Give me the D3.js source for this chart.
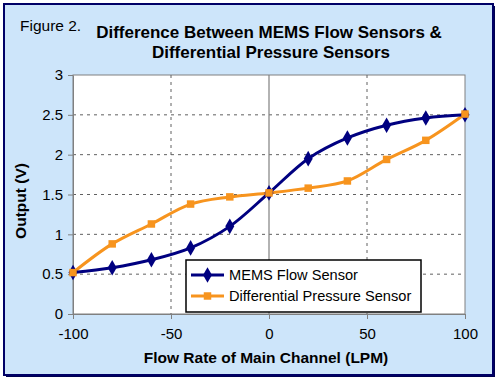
<!DOCTYPE html>
<html>
<head>
<meta charset="utf-8">
<script src="https://cdn.jsdelivr.net/npm/d3@7"></script>
<style>
  body { margin: 0; background: #fff; }
  text { font-family: "Liberation Sans", Arial, sans-serif; }
</style>
</head>
<body>
<div id="graph"></div>
<script>
"use strict";

var flowRates = [-100, -80, -60, -40, -20, 0, 20, 40, 60, 80, 100];
var memsOutput = [0.52, 0.58, 0.68, 0.83, 1.10, 1.52, 1.95, 2.21, 2.37, 2.46, 2.50];
var diffOutput = [0.52, 0.88, 1.13, 1.38, 1.47, 1.52, 1.58, 1.67, 1.94, 2.18, 2.51];
var xTicks = [-100, -50, 0, 50, 100];
var yTicks = [0, 0.5, 1, 1.5, 2, 2.5, 3];
var seriesNames = ["MEMS Flow Sensor", "Differential Pressure Sensor"];

var W = 500, H = 384;
var margin = {top: 75, right: 35, bottom: 70, left: 73};
var width = 465 - margin.left;
var height = 314 - margin.top;

var svg = d3.select("#graph").append("svg")
    .attr("width", W)
    .attr("height", H);

// outer frame with shadow
svg.append("rect")
    .attr("x", 6).attr("y", 6)
    .attr("width", 489).attr("height", 371)
    .attr("fill", "#000050");
svg.append("rect")
    .attr("x", 4).attr("y", 4)
    .attr("width", 489).attr("height", 371)
    .attr("fill", "#cde5fa")
    .attr("stroke", "#000066")
    .attr("stroke-width", 2);

// titles
svg.append("text")
    .attr("x", 20).attr("y", 31)
    .attr("font-size", 15.5)
    .text("Figure 2.");
svg.append("text")
    .attr("x", 269).attr("y", 38)
    .attr("text-anchor", "middle")
    .attr("font-size", 17)
    .attr("font-weight", "bold")
    .text("Difference Between MEMS Flow Sensors &");
svg.append("text")
    .attr("x", 271).attr("y", 58)
    .attr("text-anchor", "middle")
    .attr("font-size", 17)
    .attr("font-weight", "bold")
    .text("Differential Pressure Sensors");

var g = svg.append("g").attr("transform", "translate(" + margin.left + "," + margin.top + ")");

var x = d3.scaleLinear().domain([-100, 100]).range([0, width]);
var y = d3.scaleLinear().domain([0, 3]).range([height, 0]);

// plot area
g.append("rect")
    .attr("width", width).attr("height", height)
    .attr("fill", "#fff")
    .attr("stroke", "#808080")
    .attr("stroke-width", 1);

// horizontal dashed grid
g.selectAll(".hLine")
    .data(yTicks.filter(function(d) { return d > 0 && d < 3; }))
  .enter().append("line")
    .attr("class", "hLine")
    .attr("x1", 0).attr("x2", width)
    .attr("y1", function(d) { return y(d); })
    .attr("y2", function(d) { return y(d); })
    .attr("stroke", "#606060")
    .attr("stroke-dasharray", "3,4");

// vertical dashed grid
g.selectAll(".vLine")
    .data([-50, 50])
  .enter().append("line")
    .attr("class", "vLine")
    .attr("y1", 0).attr("y2", height)
    .attr("x1", function(d) { return x(d); })
    .attr("x2", function(d) { return x(d); })
    .attr("stroke", "#606060")
    .attr("stroke-dasharray", "3,4");

// solid line at zero
g.append("line")
    .attr("x1", x(0)).attr("x2", x(0))
    .attr("y1", 0).attr("y2", height)
    .attr("stroke", "#808080")
    .attr("stroke-width", 1.2);

// axes
var xAxis = g.append("g")
    .attr("transform", "translate(0," + height + ")")
    .call(d3.axisBottom(x).tickValues(xTicks).tickSize(5).tickSizeOuter(0).tickPadding(9)
      .tickFormat(function(d) { return String(d); }));
var yAxis = g.append("g")
    .call(d3.axisLeft(y).tickValues(yTicks).tickSize(5).tickSizeOuter(0).tickPadding(5)
      .tickFormat(function(d) { return String(d); }));

[xAxis, yAxis].forEach(function(a) {
  a.select(".domain").attr("stroke", "#808080");
  a.selectAll(".tick line").attr("stroke", "#808080");
  a.selectAll(".tick text")
    .attr("fill", "#000")
    .attr("font-size", 15)
    .attr("font-family", "Liberation Sans, Arial, sans-serif");
});

// axis titles
svg.append("text")
    .attr("x", 266).attr("y", 363)
    .attr("text-anchor", "middle")
    .attr("font-size", 15.5)
    .attr("font-weight", "bold")
    .text("Flow Rate of Main Channel (LPM)");
svg.append("text")
    .attr("transform", "translate(26,201) rotate(-90)")
    .attr("text-anchor", "middle")
    .attr("font-size", 15.5)
    .attr("font-weight", "bold")
    .text("Output (V)");

// series
var memsData = flowRates.map(function(f, i) { return {x: f, y: memsOutput[i]}; });
var diffData = flowRates.map(function(f, i) { return {x: f, y: diffOutput[i]}; });

var line = d3.line()
    .x(function(d) { return x(d.x); })
    .y(function(d) { return y(d.y); })
    .curve(d3.curveCatmullRom.alpha(0.5));

var navy = "#000080", orange = "#f7941e";

g.append("path").datum(diffData)
    .attr("fill", "none").attr("stroke", orange).attr("stroke-width", 3)
    .attr("d", line);
g.append("path").datum(memsData)
    .attr("fill", "none").attr("stroke", navy).attr("stroke-width", 3)
    .attr("d", line);

var diamond = d3.symbol().type(d3.symbolDiamond).size(70);
var square = d3.symbol().type(d3.symbolSquare).size(56);

g.selectAll(".mems")
    .data(memsData)
  .enter().append("path")
    .attr("class", "mems")
    .attr("transform", function(d) { return "translate(" + x(d.x) + "," + y(d.y) + ")"; })
    .attr("d", diamond)
    .attr("fill", navy);
g.selectAll(".diff")
    .data(diffData)
  .enter().append("path")
    .attr("class", "diff")
    .attr("transform", function(d) { return "translate(" + x(d.x) + "," + y(d.y) + ")"; })
    .attr("d", square)
    .attr("fill", orange);

// legend
var legend = svg.append("g").attr("transform", "translate(186,260)");
legend.append("rect")
    .attr("width", 235).attr("height", 52)
    .attr("fill", "#fff")
    .attr("stroke", "#000")
    .attr("stroke-width", 1.5);
var items = [{name: seriesNames[0], color: navy, sym: diamond},
             {name: seriesNames[1], color: orange, sym: square}];
var rows = legend.selectAll(".leg")
    .data(items)
  .enter().append("g")
    .attr("class", "leg")
    .attr("transform", function(d, i) { return "translate(0," + (15 + i * 21) + ")"; });
rows.append("line")
    .attr("x1", 5).attr("x2", 38)
    .attr("stroke", function(d) { return d.color; })
    .attr("stroke-width", 3);
rows.append("path")
    .attr("transform", "translate(21.5,0)")
    .attr("d", function(d) { return d.sym(); })
    .attr("fill", function(d) { return d.color; });
rows.append("text")
    .attr("x", 43).attr("y", 5)
    .attr("font-size", 14.6)
    .text(function(d) { return d.name; });
</script>
</body>
</html>
